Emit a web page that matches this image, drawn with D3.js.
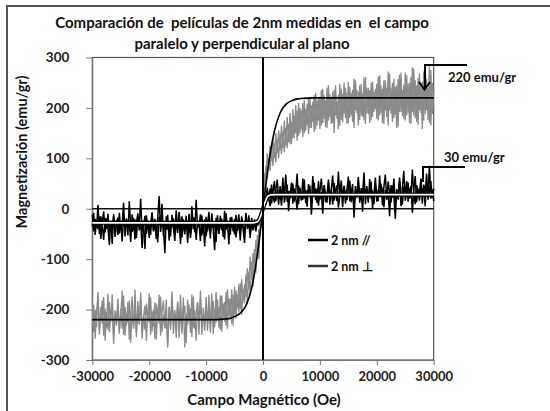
<!DOCTYPE html>
<html>
<head>
<meta charset="utf-8">
<script src="https://cdn.jsdelivr.net/npm/d3@7"></script>
<style>
    body { margin: 0; background: #fff; }
    svg { display: block; font-family: Lato, "Open Sans", sans-serif; }
</style>
</head>
<body>
<div id="chart"></div>
<script>
// field sweep, every 250 Oe from -30000 to 30000 (both branches use the same steps)
const fieldOe = d3.range(-30000, 30001, 250);

// 2 nm // (parallel) magnetization, emu/gr - first branch
const magParallel = [
    -12, -45, -20, -38, 8, -50, -15, -33, -62, -18, -40, -10, -48, -25, -70, -14, -36, -22, -52, -8,
    -42, -30, 12, -55, -19, -37, -28, -66, -11, -44, -21, -58, -16, -35, 20, -47, -24, -80, -13, -39,
    -27, -52, -9, -43, -31, -60, -17, 25, -46, -23, -38, -88, -15, -41, -26, -55, -12, -36, -64, -19,
    -48, -6, -33, -57, -21, -44, -14, -68, -29, -50, 5, -40, -18, -62, -24, -35, -11, -53, -30, -75,
    -16, -45, -22, -59, -9, -38, -27, -66, -13, -49, -32, -20, -56, -4, -42, -25, -71, -17, -37, -28,
    -51, -12, -44, -23, -63, -15, -34, -48, -8, -40, -26, -58, -18, -36, -30, -45, -22, -30, -18, -12,
    0, 12, 22, 35, 18, 40, 10, 32, 55, 15, 38, 8, 45, 20, 62, 12, 30, 48, -5, 36,
    22, 50, 14, 33, 70, 9, 42, 26, 18, 58, 11, 37, 24, 46, -12, 31, 52, 17, 40, 6,
    35, 60, 20, 44, 13, 29, 53, 8, 39, 66, 16, 34, 47, 2, 27, 56, 21, 43, 10, 38,
    64, 15, 32, 49, -18, 36, 23, 57, 12, 41, 28, 72, 9, 45, 19, 35, 54, 0, 30, 62,
    14, 38, 25, 50, 7, 44, 68, 18, 33, -15, 47, 22, 60, 11, 36, 28, 55, 5, 42, 75,
    16, 31, 52, 20, 45, -8, 37, 65, 13, 40, 24, 58, 10, 48, 30, 70, 18, 35, 55, 22,
    40
];

// 2 nm // - return branch
const magParallelRet = [
    -35, -8, -52, -22, -41, -15, -60, -27, -5, -47, -19, -38, -72, -24, -44, -11, -56, -30, -17, -49,
    -26, -65, -13, -40, -21, -53, 15, -34, -46, -18, -61, -29, -9, -43, -25, -78, -36, -14, -50, -23,
    -58, -31, -7, -45, -20, -39, -67, -16, -33, 10, -54, -28, -42, -12, -63, -26, -37, -19, -48, -3,
    -40, -24, -70, -15, -35, -51, -22, -44, -10, -58, -32, -17, -47, 18, -38, -27, -64, -13, -42, -21,
    -55, -30, -6, -46, -25, -39, -82, -18, -34, -50, -14, -43, -23, -61, -9, -37, -28, -52, -16, -45,
    -20, -57, -33, -11, -48, -26, -40, -68, -19, -35, -13, -50, -28, -43, -21, -38, -30, -25, -20, -8,
    5, 28, 8, 42, 20, 5, 48, 25, 12, 38, 58, 18, 30, 6, 44, 26, 68, 14, 35, 20,
    52, 10, 40, 24, -2, 46, 30, 16, 60, 21, 36, 4, 49, 28, 14, 65, 25, 40, 11, 55,
    18, 33, -10, 47, 26, 12, 58, 22, 37, 8, 51, 30, 15, 74, 24, 41, 3, 46, 29, 17,
    39, 56, 13, 31, 6, 45, 22, 63, 17, 34, -6, 50, 27, 40, 12, 59, 20, 36, 9, 48,
    28, 15, 66, 23, 42, 3, 37, 19, 54, 30, 12, 46, 25, -20, 39, 18, 62, 26, 8, 44,
    33, 55, 14, 40, 22, 78, 28, 9, 47, 35, 16, 60, 24, 43, 5, 52, 30, 85, 20, 38,
    15
];

// 2 nm ⊥ (perpendicular) magnetization, emu/gr - first branch
const magPerp = [
    -180, -245, -200, -235, -165, -250, -195, -228, -175, -262, -205, -240, -185, -225, -170, -255, -210, -232, -190, -248,
    -198, -238, -172, -252, -208, -226, -182, -265, -202, -236, -160, -246, -194, -230, -178, -258, -212, -240, -188, -222,
    -168, -250, -204, -234, -186, -260, -198, -228, -174, -244, -210, -238, -180, -270, -196, -232, -164, -248, -206, -226,
    -184, -256, -200, -240, -176, -275, -208, -230, -190, -246, -170, -236, -202, -262, -186, -228, -178, -250, -196, -234,
    -175, -242, -195, -230, -168, -248, -200, -226, -180, -236, -172, -244, -188, -224, -165, -238, -178, -220, -160, -232,
    -155, -218, -170, -205, -148, -210, -160, -188, -130, -190, -125, -172, -105, -155, -80, -128, -52, -100, -30, -18,
    0, 70, 50, 110, 80, 125, 95, 140, 100, 150, 110, 155, 115, 165, 120, 175, 125, 182, 132, 190,
    128, 198, 140, 205, 135, 210, 150, 195, 142, 215, 155, 208, 148, 222, 160, 212, 152, 230, 165, 218,
    158, 235, 170, 225, 162, 240, 175, 228, 168, 232, 150, 245, 178, 226, 165, 238, 172, 250, 180, 230,
    170, 242, 185, 236, 160, 255, 190, 232, 176, 248, 182, 260, 168, 240, 188, 235, 175, 252, 192, 238,
    178, 262, 185, 245, 170, 255, 195, 240, 165, 268, 188, 250, 180, 242, 160, 258, 192, 270, 184, 246,
    175, 265, 190, 250, 168, 280, 185, 255, 172, 260, 195, 245, 158, 272, 188, 258, 176, 285, 165, 250,
    200
];

// 2 nm ⊥ - return branch
const magPerpRet = [
    -230, -190, -258, -205, -172, -240, -215, -182, -252, -198, -236, -168, -245, -210, -188, -268, -202, -225, -178, -242,
    -212, -162, -250, -195, -232, -185, -260, -208, -174, -238, -200, -255, -183, -228, -166, -247, -214, -192, -262, -204,
    -226, -176, -244, -200, -258, -188, -218, -170, -252, -206, -182, -236, -212, -275, -194, -240, -172, -230, -201, -256,
    -186, -234, -170, -248, -208, -192, -266, -180, -224, -198, -255, -174, -238, -206, -185, -250, -162, -228, -210, -242,
    -190, -228, -170, -246, -200, -182, -235, -165, -220, -195, -240, -172, -215, -185, -232, -160, -212, -178, -228, -170,
    -210, -162, -196, -150, -200, -140, -182, -150, -175, -118, -160, -95, -140, -88, -115, -62, -95, -40, -55, -12,
    10, 45, 85, 60, 100, 75, 118, 85, 130, 92, 138, 100, 148, 108, 152, 112, 160, 120, 168, 128,
    172, 140, 185, 150, 195, 145, 200, 158, 210, 150, 198, 165, 220, 160, 205, 172, 225, 158, 215, 175,
    222, 165, 238, 178, 215, 160, 245, 182, 220, 170, 236, 185, 212, 158, 248, 176, 228, 188, 240, 168,
    252, 180, 230, 172, 258, 195, 236, 165, 245, 185, 228, 175, 262, 190, 240, 170, 250, 182, 232, 198,
    248, 175, 265, 190, 238, 168, 255, 182, 272, 195, 240, 172, 258, 186, 245, 163, 266, 192, 236, 178,
    270, 185, 248, 170, 262, 192, 278, 180, 245, 166, 268, 190, 252, 175, 282, 195, 240, 170, 275, 188,
    235
];

// fitted curves
const fitPerpH = [-30000, -9000, -7000, -6000, -5000, -4000, -3000, -2000, -1000, 0, 1000, 2000, 3000, 4000, 5000, 6000, 7000, 9000, 30000];
const fitPerpM = [-220, -220, -219, -218, -214, -207, -192, -158, -92, 0, 90, 154, 190, 207, 214, 218, 219, 220, 220];
const fitParH = [-30000, -2000, -1500, -1000, -700, -400, 0, 400, 700, 1000, 1500, 2000, 30000];
const fitParM = [-28, -28, -27.5, -26, -22, -14, 0, 14, 22, 26, 27.5, 28, 28];

const xTicks = [-30000, -20000, -10000, 0, 10000, 20000, 30000];
const yTicks = [-300, -200, -100, 0, 100, 200, 300];

const W = 550, H = 411;
const plot = { left: 92.3, right: 433.7, top: 57.5, bottom: 360 };

const svg = d3.select("#chart").append("svg")
    .attr("width", W)
    .attr("height", H);

svg.append("rect").attr("width", W).attr("height", H).attr("fill", "#fff");

// outer frame (cropped at right / bottom)
svg.append("path")
    .attr("d", `M7,${H} V6 H${W}`)
    .attr("fill", "none")
    .attr("stroke", "#555")
    .attr("stroke-width", 2);

const x = d3.scaleLinear().domain([-30000, 30000]).range([plot.left, plot.right]);
const y = d3.scaleLinear().domain([-300, 300]).range([plot.bottom, plot.top]);

// plot box
svg.append("rect")
    .attr("x", plot.left)
    .attr("y", plot.top)
    .attr("width", plot.right - plot.left)
    .attr("height", plot.bottom - plot.top)
    .attr("fill", "none")
    .attr("stroke", "#555")
    .attr("stroke-width", 1.2);

const gx = svg.append("g")
    .attr("transform", `translate(0,${plot.bottom})`)
    .call(d3.axisBottom(x).tickValues(xTicks).tickSize(5).tickSizeOuter(0).tickPadding(7)
        .tickFormat(d => String(d)));

const gy = svg.append("g")
    .attr("transform", `translate(${plot.left},0)`)
    .call(d3.axisLeft(y).tickValues(yTicks).tickSize(6).tickSizeOuter(0).tickPadding(17)
        .tickFormat(d => String(d)));

[gx, gy].forEach(g => {
    g.select(".domain").attr("stroke", "#777");
    g.selectAll(".tick line").attr("stroke", "#777");
    g.selectAll(".tick text")
        .attr("fill", "#222")
        .style("font-size", "13px")
        .style("font-weight", "700")
        .style("font-family", "Lato, sans-serif");
});
gy.selectAll(".tick text").style("font-size", "13.5px");

const pts = (xs, ys) => xs.map((h, i) => [h, ys[i]]);

const line = d3.line()
    .x(d => x(d[0]))
    .y(d => y(d[1]));

const smooth = d3.line()
    .x(d => x(d[0]))
    .y(d => y(d[1]))
    .curve(d3.curveMonotoneX);

// zero axis
svg.append("line")
    .attr("x1", plot.left).attr("x2", plot.right)
    .attr("y1", y(0)).attr("y2", y(0))
    .attr("stroke", "#111").attr("stroke-width", 1.5);

// measured branches
const branches = [
    { values: magPerp, color: "#8a8a8a", width: 1.3 },
    { values: magPerpRet, color: "#8a8a8a", width: 1.3 },
    { values: magParallel, color: "#000", width: 1.5 },
    { values: magParallelRet, color: "#000", width: 1.5 }
];

svg.append("g")
    .selectAll("path")
    .data(branches)
    .join("path")
    .attr("d", d => line(pts(fieldOe, d.values)))
    .attr("fill", "none")
    .attr("stroke", d => d.color)
    .attr("stroke-width", d => d.width);

svg.append("path")
    .attr("d", smooth(pts(fitPerpH, fitPerpM)))
    .attr("fill", "none")
    .attr("stroke", "#000")
    .attr("stroke-width", 1.6);

svg.append("path")
    .attr("d", smooth(pts(fitParH, fitParM)))
    .attr("fill", "none")
    .attr("stroke", "#000")
    .attr("stroke-width", 4);

svg.append("path")
    .attr("d", smooth(pts(fitParH, fitParM)))
    .attr("fill", "none")
    .attr("stroke", "#fff")
    .attr("stroke-width", 1.6);

svg.append("line")
    .attr("x1", x(0)).attr("x2", x(0))
    .attr("y1", plot.top).attr("y2", plot.bottom)
    .attr("stroke", "#000").attr("stroke-width", 2);

// title
const title = svg.append("text")
    .attr("text-anchor", "middle")
    .attr("fill", "#111")
    .style("font-size", "15px")
    .style("font-weight", "700");
title.append("tspan").attr("x", 242).attr("y", 28)
    .style("white-space", "pre")
    .text("Comparación de  películas de 2nm medidas en  el campo");
title.append("tspan").attr("x", 242).attr("y", 49)
    .text("paralelo y perpendicular al plano");

// axis titles
svg.append("text")
    .attr("transform", "translate(27,152) rotate(-90)")
    .attr("text-anchor", "middle")
    .attr("fill", "#111")
    .style("font-size", "14.5px")
    .style("font-weight", "700")
    .text("Magnetización (emu/gr)");

svg.append("text")
    .attr("x", 264)
    .attr("y", 405)
    .attr("text-anchor", "middle")
    .attr("fill", "#111")
    .style("font-size", "15px")
    .style("font-weight", "700")
    .text("Campo Magnético (Oe)");

// legend
const legendItems = [
    { label: "2 nm //", color: "#000" },
    { label: "2 nm ⊥", color: "#333" }
];
const legend = svg.append("g").attr("transform", "translate(308,240)");
legend.selectAll("line")
    .data(legendItems)
    .join("line")
    .attr("x1", 0).attr("x2", 20)
    .attr("y1", (d, i) => i * 26).attr("y2", (d, i) => i * 26)
    .attr("stroke", d => d.color)
    .attr("stroke-width", 2.5);
legend.selectAll("text")
    .data(legendItems)
    .join("text")
    .attr("x", 23)
    .attr("y", (d, i) => i * 26 + 4.5)
    .attr("fill", "#111")
    .style("font-size", "12.5px")
    .style("font-weight", "700")
    .text(d => d.label);

// annotations
svg.append("path")
    .attr("d", "M467,65 H425 V88")
    .attr("fill", "none")
    .attr("stroke", "#000")
    .attr("stroke-width", 2);
svg.append("path")
    .attr("d", "M419,82 L424.5,89.5 L430,82")
    .attr("fill", "none")
    .attr("stroke", "#000")
    .attr("stroke-width", 2);
svg.append("text")
    .attr("x", 448).attr("y", 82)
    .attr("fill", "#111")
    .style("font-size", "13px")
    .style("font-weight", "700")
    .text("220 emu/gr");

svg.append("path")
    .attr("d", "M465,167 H423 V182")
    .attr("fill", "none")
    .attr("stroke", "#000")
    .attr("stroke-width", 2);
svg.append("text")
    .attr("x", 444).attr("y", 162)
    .attr("fill", "#111")
    .style("font-size", "13px")
    .style("font-weight", "700")
    .text("30 emu/gr");
</script>
</body>
</html>
